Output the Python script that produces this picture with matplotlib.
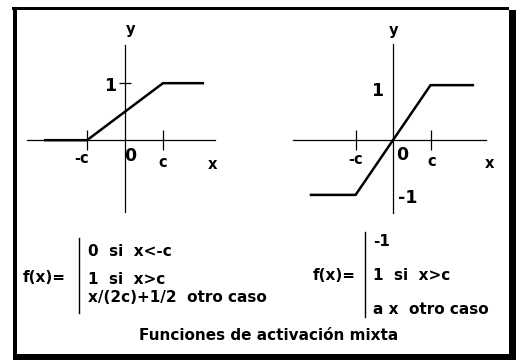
import matplotlib
matplotlib.use('Agg')
import matplotlib.pyplot as plt
from matplotlib.patches import Rectangle
import numpy as np

W, H = 516, 360

# piecewise-linear activation functions, c = 1
c = 1.0
left_x = [-2.1, -c, c, 2.05]
left_y = [0, 0, 1, 1]
right_x = [-2.19, -c, c, 2.13]
right_y = [-1, -1, 1, 1]

left_formula = ['0  si  x<-c', '1  si  x>c', 'x/(2c)+1/2  otro caso']
right_formula = ['-1', '1  si  x>c', 'a x  otro caso']
caption = 'Funciones de activación mixta'

plt.rcParams['font.family'] = 'DejaVu Sans'
plt.rcParams['font.weight'] = 'bold'
plt.rcParams['font.size'] = 10.5

fig = plt.figure(figsize=(W / 100, H / 100), dpi=100)
fig.patch.set_facecolor('white')


def frac(x, y):
    return x / W, 1 - y / H


def box(x0, y0, x1, y1):
    # rectangle in pixel coords (top-left origin)
    fig.add_artist(Rectangle((x0 / W, 1 - y1 / H), (x1 - x0) / W, (y1 - y0) / H,
                             transform=fig.transFigure, color='black', lw=0))


def make_axes(x0, y0, x1, y1, xlim, ylim):
    ax = fig.add_axes([x0 / W, 1 - y1 / H, (x1 - x0) / W, (y1 - y0) / H])
    ax.set_xlim(xlim)
    ax.set_ylim(ylim)
    ax.patch.set_visible(False)
    for s in ['top', 'right']:
        ax.spines[s].set_visible(False)
    for s in ['left', 'bottom']:
        ax.spines[s].set_position('zero')
        ax.spines[s].set_linewidth(0.9)
    ax.tick_params(axis='x', direction='inout', length=14, width=0.9,
                   labelbottom=False)
    ax.tick_params(axis='y', direction='inout', length=8, width=0.9,
                   labelleft=False)
    return ax


# left plot
ax1 = make_axes(27, 45, 215, 212, (-2.58, 2.37), (-1.26, 1.67))
ax1.set_xticks([-c, c])
ax1.set_yticks([1])
ax1.plot(left_x, left_y, color='black', lw=1.8, solid_joinstyle='miter')
ax1.text(0.15, 1.95, 'y', ha='center', va='center')
ax1.text(-0.38, 0.95, '1', ha='center', va='center', fontsize=12.5)
ax1.text(-1.15, -0.33, '-c', ha='center', va='center')
ax1.text(0.15, -0.27, '0', ha='center', va='center', fontsize=12.5)
ax1.text(1.0, -0.39, 'c', ha='center', va='center')
ax1.text(2.3, -0.42, 'x', ha='center', va='center')

# right plot
ax2 = make_axes(293, 44, 486, 213, (-2.67, 2.48), (-1.33, 1.75))
ax2.set_xticks([-c, c])
ax2.set_yticks([])
ax2.plot(right_x, right_y, color='black', lw=1.8, solid_joinstyle='miter')
ax2.text(0.0, 2.0, 'y', ha='center', va='center')
ax2.text(-0.42, 0.9, '1', ha='center', va='center', fontsize=12.5)
ax2.text(-1.0, -0.36, '-c', ha='center', va='center')
ax2.text(0.24, -0.28, '0', ha='center', va='center', fontsize=12.5)
ax2.text(1.04, -0.40, 'c', ha='center', va='center')
ax2.text(2.58, -0.42, 'x', ha='center', va='center')
ax2.text(0.4, -1.05, '-1', ha='center', va='center', fontsize=12.5)

# formulas
fx, fy = frac(23, 278)
fig.text(fx, fy, 'f(x)=', ha='left', va='center', fontsize=11)
fig.add_artist(plt.Line2D([79 / W, 79 / W], [1 - 238 / H, 1 - 313 / H],
                          transform=fig.transFigure, color='black', lw=1))
for txt, yy in zip(left_formula, [252, 279, 297]):
    tx, ty = frac(88, yy)
    fig.text(tx, ty, txt, ha='left', va='center', fontsize=11)

fx, fy = frac(313, 275)
fig.text(fx, fy, 'f(x)=', ha='left', va='center', fontsize=11)
fig.add_artist(plt.Line2D([365 / W, 365 / W], [1 - 232 / H, 1 - 317 / H],
                          transform=fig.transFigure, color='black', lw=1))
for txt, yy in zip(right_formula, [242, 275, 310]):
    tx, ty = frac(373, yy)
    fig.text(tx, ty, txt, ha='left', va='center', fontsize=11)

cx, cy = frac(269, 335)
fig.text(cx, cy, caption, ha='center', va='center', fontsize=11)

# window frame
box(12, 7, 509, 10)
box(13, 7, 17, 358)
box(509, 10, 516, 360)
box(13, 354, 516, 360)

fig.savefig('out.png', dpi=100)
